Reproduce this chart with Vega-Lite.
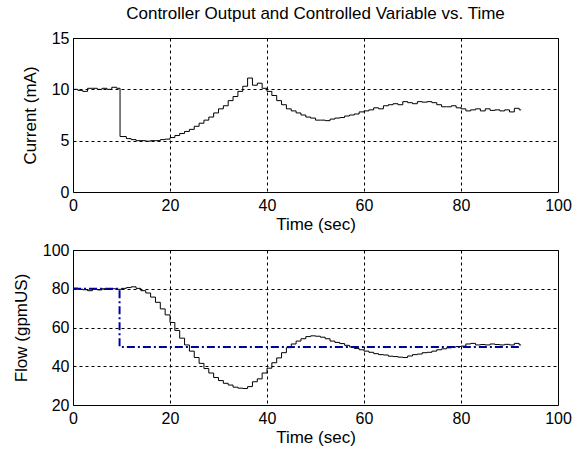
{
  "$schema": "https://vega.github.io/schema/vega-lite/v6.json",
  "padding": {"left": 11, "top": 4, "right": 5, "bottom": 5},
  "background": "white",
  "bounds": "flush",
  "spacing": 58,
  "config": {
    "font": "Liberation Sans",
    "view": {"stroke": "black", "strokeWidth": 1},
    "axis": {
      "grid": true, "gridColor": "black", "gridDash": [3, 3], "gridOpacity": 1, "gridWidth": 1,
      "domain": false, "ticks": false, "labelFlush": false, "labelOverlap": false,
      "labelFont": "Liberation Sans", "labelFontSize": 16, "labelColor": "black",
      "titleFont": "Liberation Sans", "titleFontSize": 17, "titleFontWeight": "normal", "titleColor": "black"
    },
    "axisX": {"labelPadding": 5, "titlePadding": 3},
    "axisY": {"labelPadding": 4, "titlePadding": 12}
  },
  "datasets": {
    "cur": [
      {"t":0,"v":10.0},{"t":1,"v":9.9},{"t":2,"v":9.8},{"t":3,"v":10.1},{"t":4,"v":10.1},{"t":5,"v":10.0},{"t":6,"v":10.1},{"t":7,"v":10.0},{"t":8,"v":10.2},{"t":9,"v":10.1},
      {"t":9.7,"v":5.4},{"t":11,"v":5.2},{"t":12,"v":5.1},{"t":13,"v":5.0},{"t":14,"v":5.0},{"t":15,"v":4.95},{"t":16,"v":5.0},{"t":17,"v":5.0},{"t":18,"v":5.1},{"t":19,"v":5.15},
      {"t":20,"v":5.3},{"t":21,"v":5.5},{"t":22,"v":5.7},{"t":23,"v":5.9},{"t":24,"v":6.1},{"t":25,"v":6.4},{"t":26,"v":6.7},{"t":27,"v":7.0},{"t":28,"v":7.3},{"t":29,"v":7.7},
      {"t":30,"v":8.1},{"t":31,"v":8.4},{"t":32,"v":8.9},{"t":33,"v":9.3},{"t":34,"v":9.8},{"t":35,"v":10.3},{"t":36,"v":11.1},{"t":37,"v":10.4},{"t":38,"v":10.6},{"t":39,"v":10.1},
      {"t":40,"v":9.8},{"t":41,"v":9.4},{"t":42,"v":8.9},{"t":43,"v":8.5},{"t":44,"v":8.1},{"t":45,"v":7.9},{"t":46,"v":7.7},{"t":47,"v":7.5},{"t":48,"v":7.3},{"t":49,"v":7.2},
      {"t":50,"v":7.0},{"t":51,"v":7.0},{"t":52,"v":6.95},{"t":53,"v":7.1},{"t":54,"v":7.2},{"t":55,"v":7.25},{"t":56,"v":7.4},{"t":57,"v":7.5},{"t":58,"v":7.6},{"t":59,"v":7.8},
      {"t":60,"v":7.9},{"t":61,"v":8.0},{"t":62,"v":8.2},{"t":63,"v":8.1},{"t":64,"v":8.4},{"t":65,"v":8.5},{"t":66,"v":8.6},{"t":67,"v":8.5},{"t":68,"v":8.8},{"t":69,"v":8.7},
      {"t":70,"v":8.6},{"t":71,"v":8.8},{"t":72,"v":8.75},{"t":73,"v":8.8},{"t":74,"v":8.7},{"t":75,"v":8.5},{"t":76,"v":8.3},{"t":77,"v":8.3},{"t":78,"v":8.4},{"t":79,"v":8.2},
      {"t":80,"v":8.1},{"t":81,"v":7.9},{"t":82,"v":8.0},{"t":83,"v":8.1},{"t":84,"v":7.9},{"t":85,"v":8.1},{"t":86,"v":7.95},{"t":87,"v":8.0},{"t":88,"v":7.9},{"t":89,"v":8.0},
      {"t":90,"v":7.8},{"t":91,"v":8.15},{"t":92,"v":8.0},{"t":92.4,"v":8.0}
    ],
    "flow": [
      {"t":0,"v":80.3},{"t":1,"v":79.8},{"t":2,"v":79.5},{"t":3,"v":79.0},{"t":4,"v":79.8},{"t":5,"v":79.4},{"t":6,"v":80.0},{"t":7,"v":79.6},{"t":8,"v":80.0},{"t":9,"v":79.7},
      {"t":10,"v":80.2},{"t":11,"v":80.6},{"t":12,"v":81.0},{"t":13,"v":80.2},{"t":14,"v":79.0},{"t":15,"v":77.8},{"t":16,"v":75.7},{"t":17,"v":73.0},{"t":18,"v":69.6},{"t":19,"v":66.5},
      {"t":20,"v":62.6},{"t":21,"v":58.5},{"t":22,"v":54.5},{"t":23,"v":51.0},{"t":24,"v":47.8},{"t":25,"v":44.5},{"t":26,"v":41.5},{"t":27,"v":38.8},{"t":28,"v":36.5},{"t":29,"v":34.2},
      {"t":30,"v":32.6},{"t":31,"v":31.2},{"t":32,"v":30.3},{"t":33,"v":29.2},{"t":34,"v":28.7},{"t":35,"v":28.5},{"t":36,"v":29.5},{"t":37,"v":32.0},{"t":38,"v":33.5},{"t":39,"v":36.5},
      {"t":40,"v":39.0},{"t":41,"v":41.8},{"t":42,"v":44.3},{"t":43,"v":47.0},{"t":44,"v":49.6},{"t":45,"v":51.5},{"t":46,"v":53.0},{"t":47,"v":54.2},{"t":48,"v":55.3},{"t":49,"v":55.7},
      {"t":50,"v":55.5},{"t":51,"v":55.0},{"t":52,"v":54.2},{"t":53,"v":53.0},{"t":54,"v":52.3},{"t":55,"v":51.7},{"t":56,"v":50.8},{"t":57,"v":50.0},{"t":58,"v":49.2},{"t":59,"v":48.5},
      {"t":60,"v":47.8},{"t":61,"v":47.2},{"t":62,"v":46.5},{"t":63,"v":46.0},{"t":64,"v":45.8},{"t":65,"v":45.2},{"t":66,"v":45.0},{"t":67,"v":44.7},{"t":68,"v":44.5},{"t":69,"v":45.3},
      {"t":70,"v":46.0},{"t":71,"v":46.3},{"t":72,"v":47.0},{"t":73,"v":47.2},{"t":74,"v":47.8},{"t":75,"v":48.5},{"t":76,"v":49.0},{"t":77,"v":49.5},{"t":78,"v":49.9},{"t":79,"v":50.2},
      {"t":80,"v":50.4},{"t":81,"v":51.5},{"t":82,"v":51.8},{"t":83,"v":51.0},{"t":84,"v":51.2},{"t":85,"v":51.0},{"t":86,"v":51.5},{"t":87,"v":51.2},{"t":88,"v":51.0},{"t":89,"v":51.3},
      {"t":90,"v":51.0},{"t":91,"v":51.8},{"t":92,"v":51.0},{"t":92.4,"v":51.0}
    ],
    "sp": [
      {"t":0,"v":80},{"t":9.6,"v":50},{"t":92.4,"v":50}
    ]
  },
  "vconcat": [
    {
      "width": 485, "height": 154,
      "title": {"text": "Controller Output and Controlled Variable vs. Time", "font": "Liberation Sans", "fontSize": 17, "fontWeight": "normal", "color": "black", "anchor": "middle", "offset": 7},
      "data": {"name": "cur"},
      "mark": {"type": "line", "interpolate": "step-after", "color": "black", "strokeWidth": 1},
      "encoding": {
        "x": {"field": "t", "type": "quantitative", "scale": {"domain": [0, 100], "nice": false}, "axis": {"title": "Time (sec)", "values": [0, 20, 40, 60, 80, 100]}},
        "y": {"field": "v", "type": "quantitative", "scale": {"domain": [0, 15], "nice": false}, "axis": {"title": "Current (mA)", "values": [0, 5, 10, 15]}}
      }
    },
    {
      "width": 485, "height": 155,
      "encoding": {
        "x": {"field": "t", "type": "quantitative", "scale": {"domain": [0, 100], "nice": false, "zero": false}, "axis": {"title": "Time (sec)", "values": [0, 20, 40, 60, 80, 100]}},
        "y": {"field": "v", "type": "quantitative", "scale": {"domain": [20, 100], "nice": false, "zero": false}, "axis": {"title": "Flow (gpmUS)", "values": [20, 40, 60, 80, 100]}}
      },
      "layer": [
        {
          "data": {"name": "flow"},
          "mark": {"type": "line", "interpolate": "step-after", "color": "black", "strokeWidth": 1}
        },
        {
          "data": {"name": "sp"},
          "mark": {"type": "line", "interpolate": "step-after", "color": "#0000A0", "strokeWidth": 2, "strokeDash": [8, 3, 2, 3]}
        }
      ]
    }
  ]
}
